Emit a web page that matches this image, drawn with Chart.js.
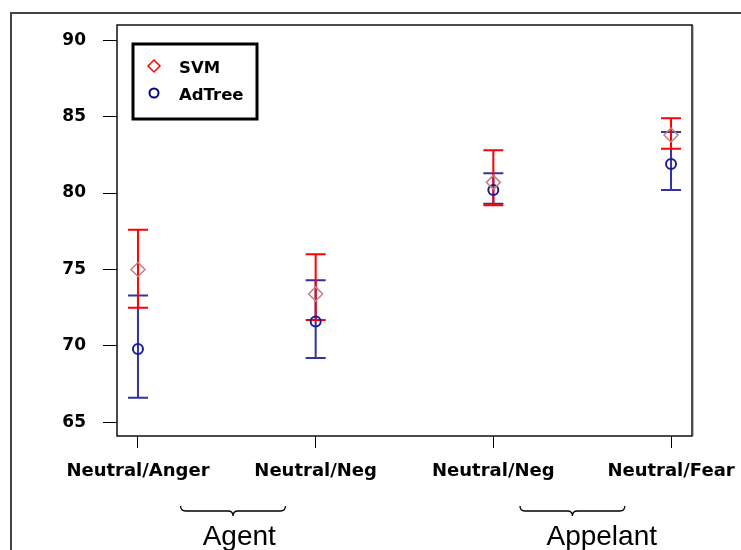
<!DOCTYPE html>
<html>
<head>
<meta charset="utf-8">
<script src="https://cdn.jsdelivr.net/npm/chart.js@4/dist/chart.umd.min.js"></script>
<style>
  html, body { margin: 0; padding: 0; background: #fff; }
  canvas { display: block; }
</style>
</head>
<body>
<canvas id="chart" width="741" height="550"></canvas>
<script>
// data
const categories = ['Neutral/Anger', 'Neutral/Neg', 'Neutral/Neg', 'Neutral/Fear'];
const svmMean = [75.0, 73.4, 80.7, 83.8];
const svmLow  = [72.5, 71.7, 79.2, 82.9];
const svmHigh = [77.6, 76.0, 82.8, 84.9];
const adtMean = [69.8, 71.6, 80.2, 81.9];
const adtLow  = [66.6, 69.2, 79.3, 80.2];
const adtHigh = [73.3, 74.3, 81.3, 84.0];
const yTicks = [65, 70, 75, 80, 85, 90];
const groups = ['Agent', 'Appelant'];

// ---------------------------------------------------------
// helpers
// ---------------------------------------------------------
function drawBrace(ctx, x1, x2, y) {
    const mid = (x1 + x2) / 2, r = 5;
    ctx.beginPath();
    ctx.moveTo(x1, y - r);
    ctx.quadraticCurveTo(x1, y, x1 + r, y);
    ctx.lineTo(mid - r, y);
    ctx.quadraticCurveTo(mid, y, mid, y + r);
    ctx.quadraticCurveTo(mid, y, mid + r, y);
    ctx.lineTo(x2 - r, y);
    ctx.quadraticCurveTo(x2, y, x2, y - r);
    ctx.stroke();
}

function drawErrorBars(chart, low, high, color) {
    const ctx = chart.ctx;
    const xs = chart.scales.x, ys = chart.scales.y;
    ctx.save();
    ctx.strokeStyle = color;
    ctx.lineWidth = 2;
    low.forEach((lo, i) => {
        const x = xs.getPixelForValue(i);
        const y1 = ys.getPixelForValue(lo);
        const y2 = ys.getPixelForValue(high[i]);
        ctx.beginPath();
        ctx.moveTo(x, y1); ctx.lineTo(x, y2);
        ctx.moveTo(x - 10, y1); ctx.lineTo(x + 10, y1);
        ctx.moveTo(x - 10, y2); ctx.lineTo(x + 10, y2);
        ctx.stroke();
    });
    ctx.restore();
}

const decorations = {
    id: 'decorations',
    beforeDraw(chart) {
        const ctx = chart.ctx;
        ctx.save();
        ctx.fillStyle = '#fff';
        ctx.fillRect(0, 0, chart.width, chart.height);
        // outer figure frame
        ctx.strokeStyle = '#444';
        ctx.lineWidth = 2;
        ctx.beginPath();
        ctx.moveTo(11, chart.height);
        ctx.lineTo(11, 13);
        ctx.lineTo(chart.width, 13);
        ctx.stroke();
        ctx.restore();
    },
    beforeDatasetsDraw(chart) {
        drawErrorBars(chart, adtLow, adtHigh, '#3333a0');
        drawErrorBars(chart, svmLow, svmHigh, '#ff0000');
    },
    afterDraw(chart) {
        const ctx = chart.ctx;
        const a = chart.chartArea;
        const xs = chart.scales.x;
        ctx.save();

        // plot box with a light shadow on the right
        ctx.strokeStyle = '#bbb';
        ctx.lineWidth = 1;
        ctx.beginPath();
        ctx.moveTo(a.right + 1.5, a.top);
        ctx.lineTo(a.right + 1.5, a.bottom);
        ctx.stroke();
        ctx.strokeStyle = '#111';
        ctx.lineWidth = 1.5;
        ctx.strokeRect(a.left, a.top, a.right - a.left, a.bottom - a.top);

        // legend
        const lx = a.left + 16, ly = a.top + 19;
        ctx.lineWidth = 3;
        ctx.strokeStyle = '#000';
        ctx.strokeRect(lx, ly, 124, 75);
        ctx.fillStyle = 'rgba(0,0,0,0)';
        ctx.strokeStyle = '#ff0000';
        ctx.lineWidth = 1.5;
        Chart.helpers.drawPoint(ctx, { pointStyle: 'rectRot', radius: 6, borderWidth: 1.5 }, lx + 21, ly + 22);
        ctx.strokeStyle = '#000080';
        ctx.lineWidth = 2;
        Chart.helpers.drawPoint(ctx, { pointStyle: 'circle', radius: 4.5, borderWidth: 2 }, lx + 21, ly + 49);
        ctx.fillStyle = '#000';
        ctx.font = 'bold 16.5px "DejaVu Sans"';
        ctx.textBaseline = 'middle';
        ctx.textAlign = 'left';
        ctx.fillText('SVM', lx + 46, ly + 25);
        ctx.fillText('AdTree', lx + 46, ly + 52);

        // group braces and names under the axis
        ctx.strokeStyle = '#000';
        ctx.lineWidth = 1.3;
        drawBrace(ctx, xs.getPixelForValue(0.24), xs.getPixelForValue(0.83), 511);
        drawBrace(ctx, xs.getPixelForValue(2.15), xs.getPixelForValue(2.74), 511);
        ctx.font = '28px "Liberation Sans"';
        ctx.textAlign = 'center';
        ctx.textBaseline = 'alphabetic';
        ctx.fillText(groups[0], xs.getPixelForValue(0.57), 545);
        ctx.fillText(groups[1], xs.getPixelForValue(2.61), 545);
        ctx.restore();
    }
};

new Chart(document.getElementById('chart'), {
    type: 'scatter',
    data: {
        datasets: [
            {
                label: 'SVM',
                data: svmMean.map((v, i) => ({ x: i, y: v })),
                pointStyle: 'rectRot',
                pointRadius: 7,
                borderColor: '#c08080',
                backgroundColor: 'rgba(0,0,0,0)',
                borderWidth: 1.5
            },
            {
                label: 'AdTree',
                data: adtMean.map((v, i) => ({ x: i, y: v })),
                pointStyle: 'circle',
                pointRadius: 5,
                borderColor: '#1a1a9a',
                backgroundColor: 'rgba(0,0,0,0)',
                borderWidth: 2
            }
        ]
    },
    options: {
        responsive: false,
        animation: false,
        layout: { padding: { top: 25, right: 49, left: 0, bottom: 0 } },
        plugins: { legend: { display: false }, tooltip: { enabled: false } },
        scales: {
            x: {
                type: 'linear',
                min: -0.118,
                max: 3.118,
                afterBuildTicks: s => { s.ticks = categories.map((_, i) => ({ value: i })); },
                afterFit: s => { s.height = 114; s.paddingLeft = 0; s.paddingRight = 0; },
                ticks: {
                    callback: v => categories[v],
                    font: { family: 'DejaVu Sans', weight: 'bold', size: 18 },
                    color: '#000',
                    padding: 13,
                    autoSkip: false,
                    maxRotation: 0
                },
                grid: { drawOnChartArea: false, tickLength: 12, color: '#000', tickWidth: 1 },
                border: { display: false }
            },
            y: {
                min: 64.1,
                max: 91.0,
                afterBuildTicks: s => { s.ticks = yTicks.map(v => ({ value: v })); },
                afterFit: s => { s.width = 117; s.paddingTop = 0; s.paddingBottom = 0; },
                ticks: { font: { family: 'DejaVu Sans', weight: 'bold', size: 17 }, color: '#000', padding: 17 },
                grid: { drawOnChartArea: false, tickLength: 14, color: '#000', tickWidth: 1 },
                border: { display: false }
            }
        }
    },
    plugins: [decorations]
});
</script>
</body>
</html>
